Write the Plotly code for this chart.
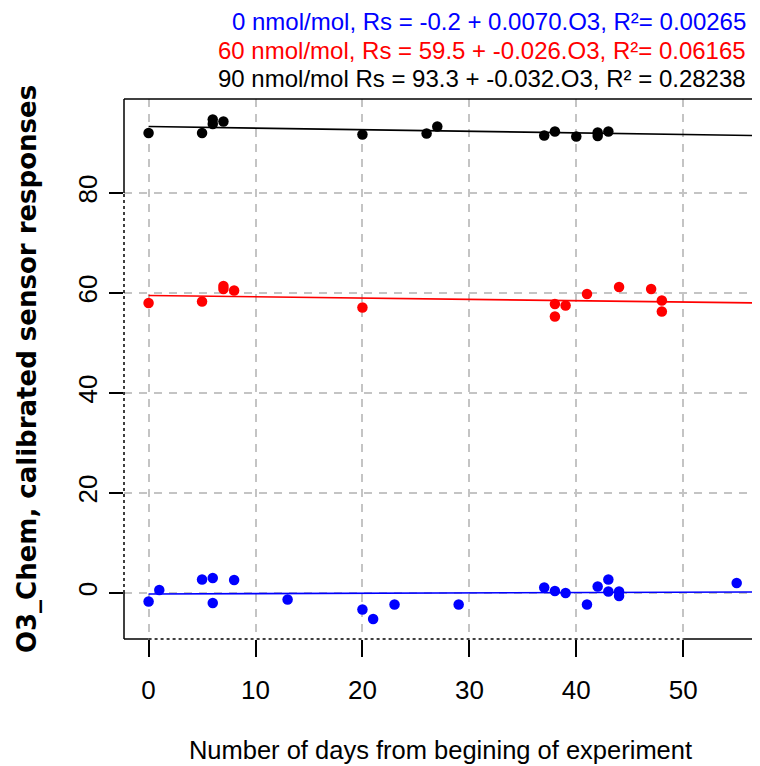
import plotly.graph_objects as go

days_0 = [0, 1, 5, 6, 6, 8, 13, 20, 21, 23, 29, 37, 38, 39, 41, 42, 43, 43, 44, 44, 55]
resp_0 = [-1.7, 0.6, 2.7, 3.0, -2.0, 2.6, -1.3, -3.3, -5.2, -2.3, -2.3, 1.1, 0.4, 0.0,
          -2.3, 1.3, 2.7, 0.3, 0.3, -0.6, 2.0]

days_60 = [0, 5, 7, 7, 8, 20, 38, 38, 39, 41, 44, 47, 48, 48]
resp_60 = [58.0, 58.3, 61.4, 60.8, 60.5, 57.1, 57.8, 55.3, 57.5, 59.8, 61.2, 60.8, 58.5, 56.3]

days_90 = [0, 5, 6, 6, 7, 20, 26, 27, 37, 38, 40, 42, 42, 43]
resp_90 = [92.0, 92.0, 93.8, 94.7, 94.3, 91.7, 91.9, 93.3, 91.5, 92.3, 91.3, 91.4, 92.1, 92.3]

# linear fits as printed in the header
intercepts = [-0.2, 59.5, 93.3]
slopes = [0.0070, -0.026, -0.032]
fit_labels = [
    "0 nmol/mol, Rs = -0.2 + 0.0070.O3, R²= 0.00265",
    "60 nmol/mol, Rs = 59.5 + -0.026.O3, R²= 0.06165",
    "90 nmol/mol Rs = 93.3 + -0.032.O3, R² = 0.28238",
]
colors = ["#0000ff", "#ff0000", "#000000"]

x_ticks = [0, 10, 20, 30, 40, 50]
y_ticks = [0, 20, 40, 60, 80]

XR = [-2.3, 56.9]
YR = [-9.2, 98.8]

fig = go.Figure()

series = [(days_0, resp_0), (days_60, resp_60), (days_90, resp_90)]
for (xs, ys), a, b, c in zip(series, intercepts, slopes, colors):
    fig.add_trace(go.Scatter(x=xs, y=ys, mode="markers",
                             marker=dict(color=c, size=10.5, line=dict(width=0)),
                             showlegend=False))
    xl = [0, XR[1]]
    fig.add_trace(go.Scatter(x=xl, y=[a + b * v for v in xl], mode="lines",
                             line=dict(color=c, width=1.6), showlegend=False))

# header lines with the fit equations
for i, (txt, c) in enumerate(zip(fit_labels, colors)):
    fig.add_annotation(text=txt, xref="paper", yref="paper", x=1.0, xanchor="right",
                       xshift=-10, y=1.1426 - i * 0.0519, yanchor="middle", showarrow=False,
                       borderpad=0, font=dict(family="Liberation Sans, Arial", size=24, color=c))

# frame: R leaves part of the left and bottom border dashed
blk = dict(color="black", width=1.5)
fig.add_shape(type="line", xref="paper", yref="paper", x0=0, x1=1, y0=1, y1=1, line=blk)
fig.add_shape(type="line", xref="paper", yref="paper", x0=1, x1=1, y0=0, y1=1, line=blk)
fig.add_shape(type="line", xref="paper", yref="y", x0=0, x1=0, y0=80, y1=YR[1], line=blk)
fig.add_shape(type="line", xref="paper", yref="y", x0=0, x1=0, y0=YR[0], y1=0, line=blk)
fig.add_shape(type="line", xref="paper", yref="y", x0=0, x1=0, y0=0, y1=80,
              line=dict(color="black", width=1.5, dash="3px,3px"))
fig.add_shape(type="line", xref="x", yref="paper", x0=XR[0], x1=0, y0=0, y1=0, line=blk)
fig.add_shape(type="line", xref="x", yref="paper", x0=50, x1=XR[1], y0=0, y1=0, line=blk)
fig.add_shape(type="line", xref="x", yref="paper", x0=0, x1=50, y0=0, y1=0,
              line=dict(color="black", width=1.5, dash="3px,3px"))

axis_common = dict(showline=False, zeroline=False, showgrid=True,
                   gridcolor="#c4c4c4", gridwidth=1.5, griddash="8px,7px",
                   ticks="outside", tickwidth=1.5, tickcolor="black",
                   tickfont=dict(family="Liberation Sans, Arial", size=26, color="black"))

fig.update_xaxes(range=XR, tickvals=x_ticks, ticklen=17, ticklabelstandoff=11,
                 title=dict(text="Number of days from begining of experiment",
                            font=dict(family="Liberation Sans, Arial", size=25.5, color="black"),
                            standoff=36),
                 **axis_common)
fig.update_yaxes(range=YR, tickvals=y_ticks, tickangle=-90, ticklen=14, ticklabelstandoff=2,
                 title=dict(text="<b>O3_Chem, calibrated sensor responses</b>",
                            font=dict(family="DejaVu Sans", size=26, color="black"),
                            standoff=28),
                 **axis_common)

# the page body adds an 8px offset, so the figure is 8px smaller than the window
fig.update_layout(width=752, height=758, margin=dict(l=116, r=3, t=91, b=127),
                  plot_bgcolor="white", paper_bgcolor="white")

fig.write_html("out.html")
